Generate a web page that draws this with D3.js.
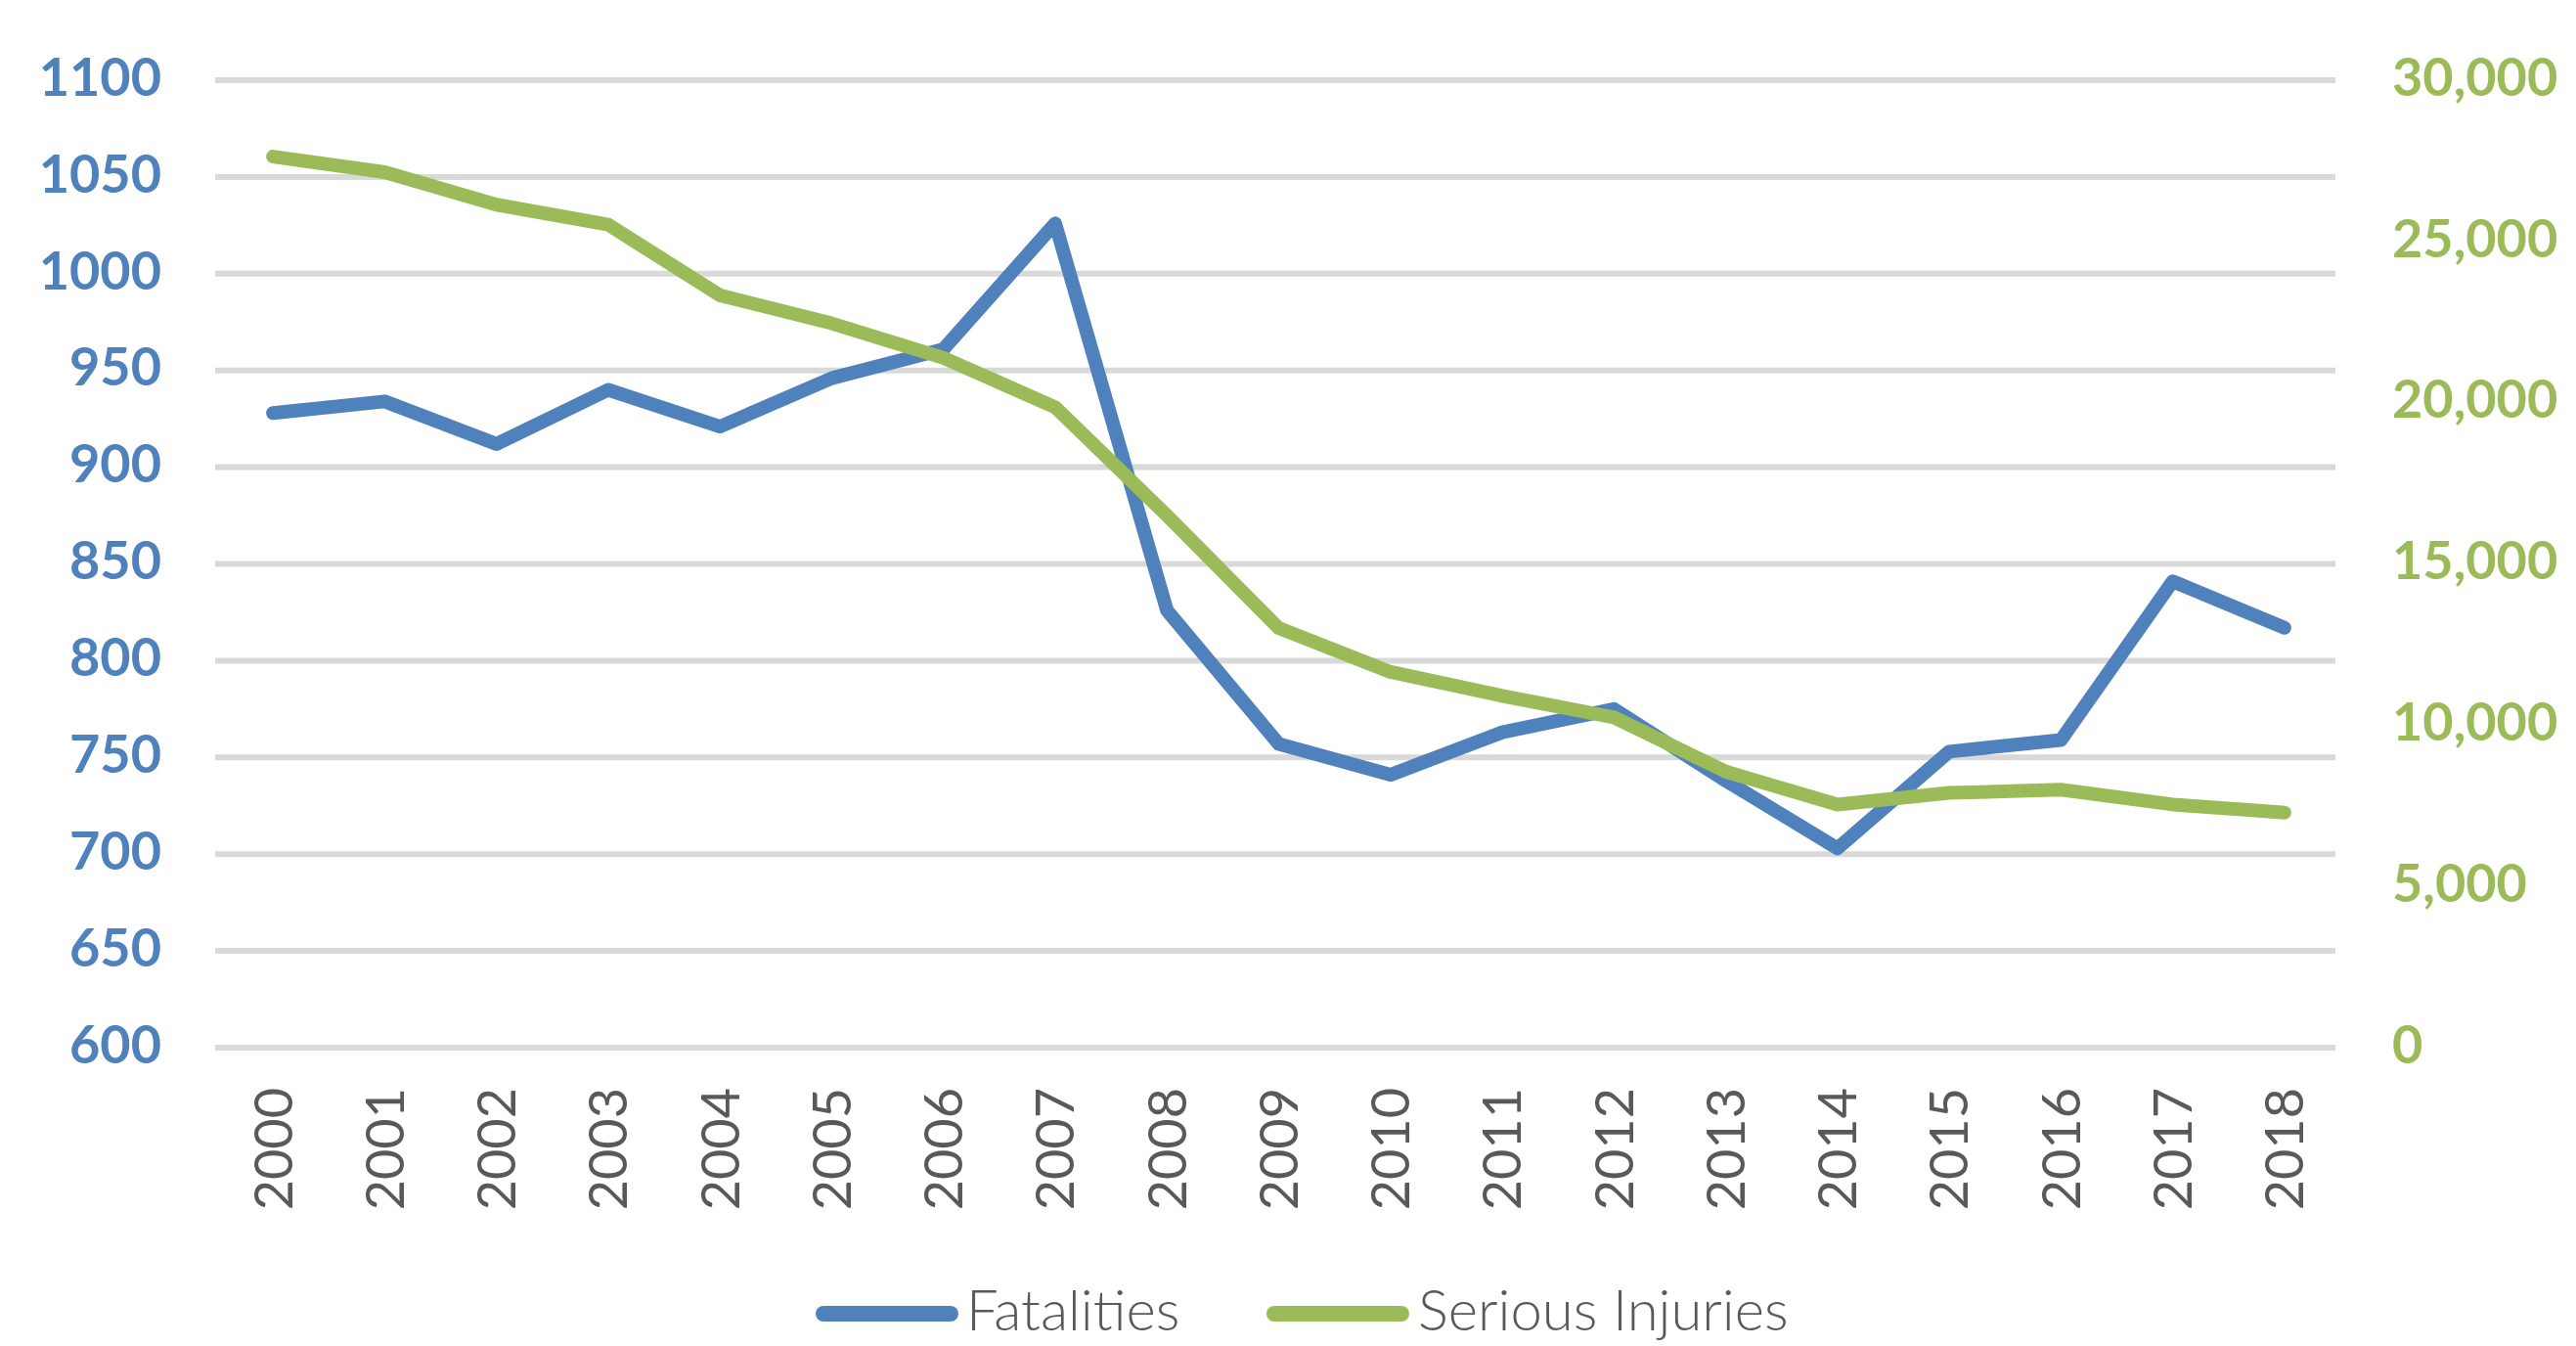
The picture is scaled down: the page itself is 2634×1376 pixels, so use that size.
<!DOCTYPE html>
<html>
<head>
<meta charset="utf-8">
<script src="https://cdn.jsdelivr.net/npm/d3@7/dist/d3.min.js"></script>
<style>
  html, body { margin: 0; padding: 0; background: #ffffff; }
  svg { display: block; }
</style>
</head>
<body>
<svg id="chart" width="2634" height="1376"></svg>
<script>
const years = ["2000","2001","2002","2003","2004","2005","2006","2007","2008","2009","2010","2011","2012","2013","2014","2015","2016","2017","2018"];
const fatalities = [928, 934, 912, 940, 921, 946, 961, 1026, 826, 757, 741, 763, 775, 738, 703, 753, 759, 841, 817];
const seriousInjuries = [27630, 27150, 26140, 25520, 23330, 22460, 21390, 19860, 16500, 13010, 11650, 10910, 10240, 8560, 7540, 7900, 8000, 7540, 7290];
const leftTicks = [600, 650, 700, 750, 800, 850, 900, 950, 1000, 1050, 1100];
const rightTicks = [0, 5000, 10000, 15000, 20000, 25000, 30000];
const seriesNames = ["Fatalities", "Serious Injuries"];
const seriesColors = ["#4F81BD", "#9BBB59"];

const svg = d3.select("#chart");
const plot = { left: 220, right: 2388, top: 82, bottom: 1071 };
const FONT = "Lato, 'Open Sans', sans-serif";

const x = d3.scalePoint().domain(years).range([222, 2393]).padding(0.5);
const yL = d3.scaleLinear().domain([600, 1100]).range([plot.bottom, plot.top]);
const yR = d3.scaleLinear().domain([0, 30000]).range([plot.bottom, plot.top]);

// gridlines
svg.append("g").selectAll("line").data(leftTicks).join("line")
  .attr("x1", plot.left).attr("x2", plot.right)
  .attr("y1", d => yL(d)).attr("y2", d => yL(d))
  .attr("stroke", "#D9D9D9").attr("stroke-width", 6);

// left axis
const leftAxis = d3.axisLeft(yL).tickValues(leftTicks).tickSize(0).tickPadding(0).tickFormat(d3.format("d"));
const gL = svg.append("g").attr("transform", "translate(165,0)").call(leftAxis);
gL.select(".domain").remove();
gL.selectAll("text")
  .attr("font-family", FONT).attr("font-size", 54).attr("font-weight", 700)
  .attr("fill", "#4F81BD").attr("dy", "0.32em").attr("y", -2);

// right axis
const rightAxis = d3.axisRight(yR).tickValues(rightTicks).tickSize(0).tickPadding(0).tickFormat(d3.format(","));
const gR = svg.append("g").attr("transform", "translate(2446,0)").call(rightAxis);
gR.select(".domain").remove();
gR.selectAll("text")
  .attr("font-family", FONT).attr("font-size", 54).attr("font-weight", 700)
  .attr("fill", "#9BBB59").attr("dy", "0.32em").attr("y", -2);

// x axis labels (rotated)
const xAxis = d3.axisBottom(x).tickSize(0).tickPadding(0);
const gX = svg.append("g").attr("transform", "translate(0,1112)").call(xAxis);
gX.select(".domain").remove();
gX.selectAll("text")
  .attr("font-family", FONT).attr("font-size", 54).attr("fill", "#595959")
  .attr("transform", "rotate(-90)")
  .attr("text-anchor", "end").attr("x", 0).attr("y", 0).attr("dy", "0.35em");

// lines
const lineL = d3.line().x((d, i) => x(years[i])).y(d => yL(d));
const lineR = d3.line().x((d, i) => x(years[i])).y(d => yR(d));

svg.append("path").datum(fatalities)
  .attr("d", lineL).attr("fill", "none").attr("stroke", seriesColors[0])
  .attr("stroke-width", 14).attr("stroke-linejoin", "round").attr("stroke-linecap", "round");

svg.append("path").datum(seriousInjuries)
  .attr("d", lineR).attr("fill", "none").attr("stroke", seriesColors[1])
  .attr("stroke-width", 14).attr("stroke-linejoin", "round").attr("stroke-linecap", "round");

// legend
const legendItems = [
  { name: seriesNames[0], color: seriesColors[0], x1: 842, x2: 972, tx: 988 },
  { name: seriesNames[1], color: seriesColors[1], x1: 1303, x2: 1433, tx: 1450 }
];
const lg = svg.append("g");
legendItems.forEach(it => {
  lg.append("line").attr("x1", it.x1).attr("x2", it.x2).attr("y1", 1343).attr("y2", 1343)
    .attr("stroke", it.color).attr("stroke-width", 16).attr("stroke-linecap", "round");
  lg.append("text").attr("x", it.tx).attr("y", 1360).text(it.name)
    .attr("font-family", FONT).attr("font-size", 58).attr("font-weight", 300).attr("fill", "#595959");
});
</script>
</body>
</html>
